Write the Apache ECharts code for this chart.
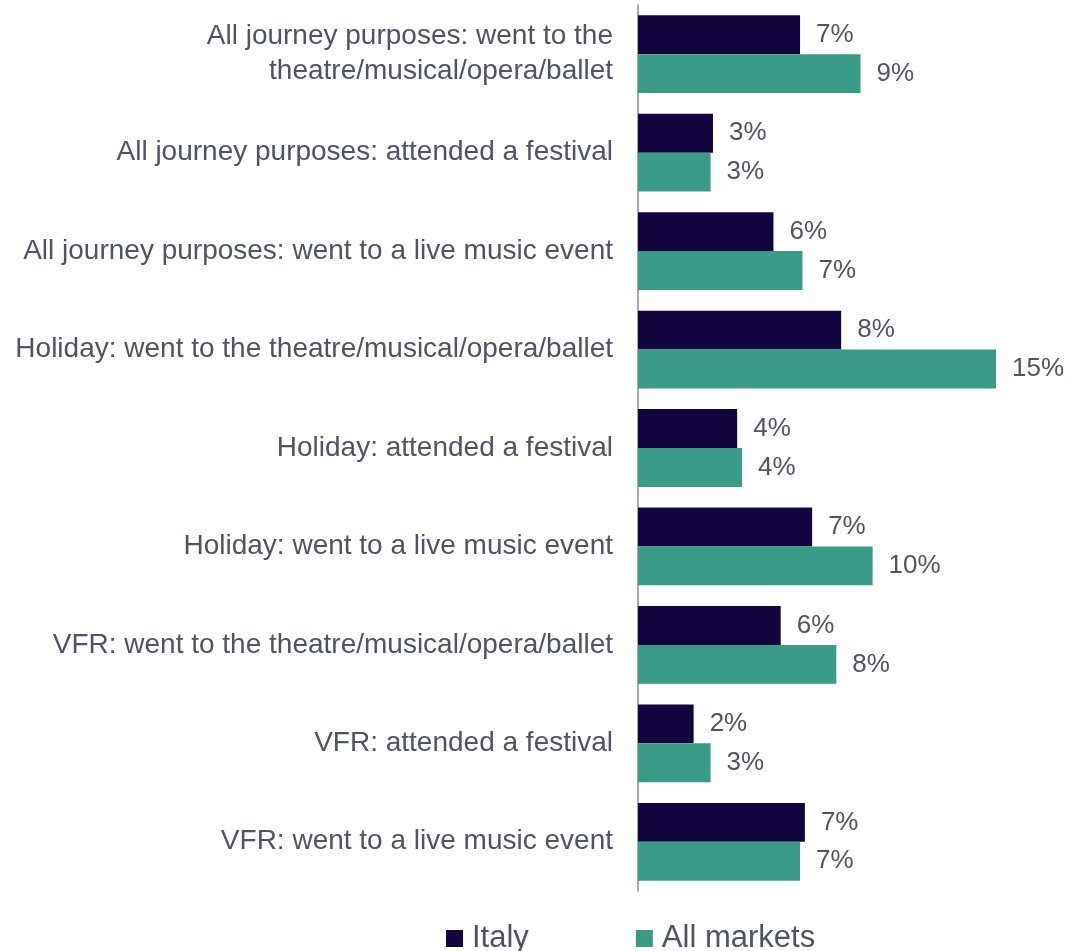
<!DOCTYPE html>
<html>
<head>
<meta charset="utf-8">
<script src="https://cdn.jsdelivr.net/npm/echarts@6/dist/echarts.min.js"></script>
<style>
  html, body { margin: 0; padding: 0; background: #fff; }
  #chart { width: 1071px; height: 951px; }
</style>
</head>
<body>
<div id="chart"></div>
<script>
// categories top to bottom
const categories = [
  'All journey purposes: went to the\ntheatre/musical/opera/ballet',
  'All journey purposes: attended a festival',
  'All journey purposes: went to a live music event',
  'Holiday: went to the theatre/musical/opera/ballet',
  'Holiday: attended a festival',
  'Holiday: went to a live music event',
  'VFR: went to the theatre/musical/opera/ballet',
  'VFR: attended a festival',
  'VFR: went to a live music event'
]
// share of visits, %
const italy = [6.7, 3.1, 5.6, 8.4, 4.1, 7.2, 5.9, 2.3, 6.9]
const allMarkets = [9.2, 3.0, 6.8, 14.8, 4.3, 9.7, 8.2, 3.0, 6.7]

const textColor = '#4d5563'
const font = 'Liberation Sans, Arial, sans-serif'
const chart = echarts.init(document.getElementById('chart'))

const labelOpt = {
  show: true,
  position: 'right',
  distance: 16,
  color: textColor,
  fontSize: 26,
  fontFamily: font,
  formatter: (p) => Math.round(p.value) + '%'
}

chart.setOption({
  animation: false,
  grid: {
    left: 638,
    top: 5,
    width: 387,
    bottom: 60
  },
  legend: {
    top: 918,
    left: 441,
    itemWidth: 17,
    itemHeight: 17,
    itemGap: 107,
    icon: 'rect',
    textStyle: {
      color: textColor,
      fontSize: 31,
      fontFamily: font,
      padding: [0, 0, 0, 4]
    },
    data: ['Italy', 'All markets']
  },
  xAxis: {
    type: 'value',
    min: 0,
    max: 16,
    show: false
  },
  yAxis: {
    type: 'category',
    inverse: true,
    data: categories,
    axisLine: { show: true, lineStyle: { color: '#8c8c8c', width: 1.5 } },
    axisTick: { show: false },
    axisLabel: {
      color: textColor,
      fontSize: 28,
      margin: 25,
      lineHeight: 35,
      fontFamily: font
    }
  },
  series: [
    {
      name: 'Italy',
      type: 'bar',
      data: italy,
      barGap: '0%',
      barCategoryGap: '21%',
      itemStyle: { color: '#13063f' },
      label: labelOpt
    },
    {
      name: 'All markets',
      type: 'bar',
      data: allMarkets,
      itemStyle: { color: '#3a9c86' },
      label: labelOpt
    }
  ]
})
</script>
</body>
</html>
